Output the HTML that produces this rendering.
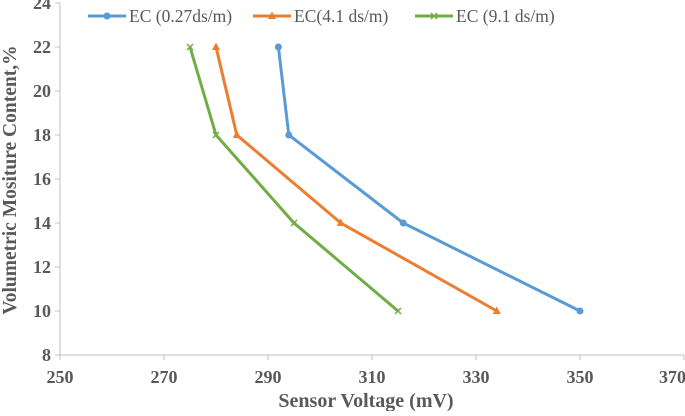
<!DOCTYPE html>
<html><head><meta charset="utf-8"><style>
body{margin:0;background:#fff;}
svg text{font-family:"Liberation Serif",serif;fill:#595959;}
</style></head><body>
<svg width="685" height="411">
<g id="axes"></g><g id="series"></g><g id="legend"></g>
</svg>
<script>
const xTicks=[250,270,290,310,330,350,370];
const yTicks=[8,10,12,14,16,18,20,22,24];
const seriesNames=["EC (0.27ds/m)","EC(4.1 ds/m)","EC (9.1 ds/m)"];
const moisture=[22,18,14,10];
const voltBlue=[292,294,316,350];
const voltOrange=[280,284,304,334];
const voltGreen=[275,280,295,315];
const colors=["#5b9bd5","#ed7d31","#70ad47"];
const NS="http://www.w3.org/2000/svg";
const X0=60,X1=684,Y0=355,Y1=3;
const sx=v=>X0+(v-250)/(370-250)*(X1-X0);
const sy=v=>Y0-(v-8)/(24-8)*(Y0-Y1);
function mk(t,a,p){const e=document.createElementNS(NS,t);for(const k in a)e.setAttribute(k,a[k]);p.appendChild(e);return e;}
const ax=document.getElementById('axes');
let l=mk('line',{x1:X0,y1:Y1,x2:X0,y2:Y0,stroke:'#bfbfbf'},ax);


l=mk('line',{x1:X0,y1:Y0,x2:X1,y2:Y0,stroke:'#bfbfbf'},ax);


yTicks.forEach(v=>{const y=sy(v);mk('line',{x1:X0-5,x2:X0,y1:y,y2:y,stroke:'#bfbfbf'},ax);
const t=mk('text',{x:X0-9,y:y+6,'text-anchor':'end','font-size':18,'font-weight':'bold'},ax);t.textContent=v;

});
xTicks.forEach((v,i)=>{const x=sx(v);mk('line',{x1:x,x2:x,y1:Y0,y2:Y0+5,stroke:'#bfbfbf'},ax);
const last=i===xTicks.length-1;
const t=mk('text',{x:last?x+2:x,y:Y0+28,'text-anchor':last?'end':'middle','font-size':18,'font-weight':'bold'},ax);t.textContent=v;

});
let t=mk('text',{x:366,y:407,'text-anchor':'middle','font-size':20,'font-weight':'bold'},ax);t.textContent='Sensor Voltage (mV)';


t=mk('text',{x:0,y:0,'text-anchor':'middle','font-size':19.5,'font-weight':'bold',transform:'translate(16,180) rotate(-90)'},ax);t.textContent='Volumetric Mositure Content,%';


function marker(kind,x,y,c,g){
 if(kind===0)mk('circle',{cx:x,cy:y,r:3.5,fill:c},g);
 else if(kind===1)mk('polygon',{points:`${x},${y-4.5} ${x-4},${y+3} ${x+4},${y+3}`,fill:c},g);
 else {mk('path',{d:`M${x-3},${y-3}L${x+3},${y+3}M${x-3},${y+3}L${x+3},${y-3}`,stroke:c,'stroke-width':1.5},g);}
}
const sg=document.getElementById('series');
[voltBlue,voltOrange,voltGreen].forEach((vals,i)=>{
 const g=mk('g',{},sg);
 
 
 mk('polyline',{points:vals.map((v,j)=>sx(v)+','+sy(moisture[j])).join(' '),fill:'none',stroke:colors[i],'stroke-width':3},g);
 vals.forEach((v,j)=>marker(i,sx(v),sy(moisture[j]),colors[i],g));
});
const lg=document.getElementById('legend');
const lx=[88,253,415];
seriesNames.forEach((n,i)=>{
 const g=mk('g',{},lg);
 
 
 mk('line',{x1:lx[i],x2:lx[i]+38,y1:16,y2:16,stroke:colors[i],'stroke-width':3},g);
 marker(i,lx[i]+19,16,colors[i],g);
 const tt=mk('text',{x:lx[i]+41,y:22,'font-size':17.5},g);tt.textContent=n;
});
</script>
</body></html>
